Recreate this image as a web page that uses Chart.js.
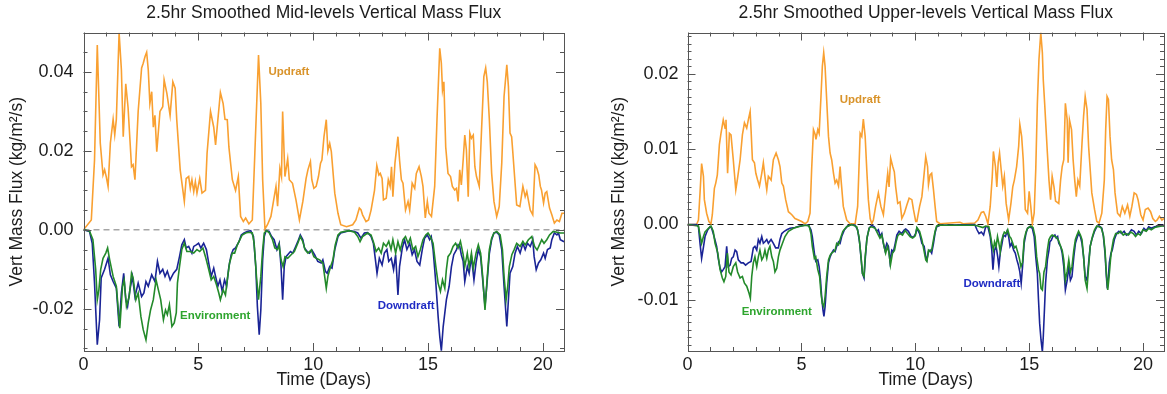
<!DOCTYPE html>
<html>
<head>
<meta charset="utf-8">
<title>Smoothed Vertical Mass Flux</title>
<script src="https://cdn.jsdelivr.net/npm/chart.js"></script>
<style>
  body { margin: 0; background: #fff; }
  #wrap { position: relative; width: 1167px; height: 394px; }
  #wrap canvas { position: absolute; top: 0; }
  #midChart { left: 0; }
  #upperChart { left: 590px; }
</style>
</head>
<body>
<div id="wrap">
  <canvas id="midChart" width="590" height="394"></canvas>
  <canvas id="upperChart" width="577" height="394"></canvas>
</div>
<script>
// ---------- tick labels ----------
const dayTicks = [0, 5, 10, 15, 20];
const midFluxTicks = [-0.02, 0, 0.02, 0.04];
const upperFluxTicks = [-0.01, 0, 0.01, 0.02];

// ---------- mid-levels, [day, flux kg/m2/s] ----------
const midUpdraft = [
  [0,0],[0.34,0.0025],[0.48,0.0177],[0.6,0.0468],[0.73,0.022],[0.85,0.0139],[0.92,0.0152],[0.99,0.0135],
  [1.07,0.011],[1.17,0.022],[1.29,0.028],[1.36,0.0241],[1.43,0.028],[1.55,0.0499],[1.65,0.0405],[1.73,0.0236],
  [1.84,0.037],[1.94,0.031],[2.09,0.016],[2.16,0.0165],[2.24,0.0127],[2.38,0.030],[2.53,0.041],[2.6,0.0422],
  [2.68,0.0439],[2.75,0.045],[2.82,0.0405],[2.89,0.032],[2.97,0.035],[3.04,0.026],[3.11,0.029],[3.19,0.0198],
  [3.33,0.030],[3.45,0.0312],[3.51,0.038],[3.63,0.0346],[3.77,0.029],[3.89,0.0375],[3.99,0.0359],[4.06,0.0279],
  [4.21,0.0152],[4.39,0.0072],[4.47,0.013],[4.58,0.0135],[4.65,0.0105],[4.72,0.0127],[4.8,0.0097],[4.87,0.0122],
  [4.94,0.0093],[5.06,0.013],[5.16,0.0093],[5.31,0.010],[5.38,0.0194],[5.53,0.030],[5.67,0.026],[5.75,0.0215],
  [5.85,0.0279],[5.96,0.0348],[6.08,0.032],[6.16,0.028],[6.26,0.0279],[6.33,0.021],[6.48,0.0127],[6.62,0.010],
  [6.74,0.0135],[6.84,0.0034],[6.96,0.0021],[7.06,0.003],[7.2,0.0015],[7.35,0.0025],[7.46,0.0194],[7.62,0.0443],
  [7.72,0.032],[7.8,0.0127],[7.9,0.0002],[8.01,0.0013],[8.16,0.0034],[8.27,0.0072],[8.38,0.011],[8.45,0.006],
  [8.55,0.0156],[8.62,0.0135],[8.67,0.030],[8.77,0.0135],[8.89,0.018],[8.96,0.0127],[9.1,0.0118],[9.25,0.0076],
  [9.4,0.0025],[9.55,0.0072],[9.69,0.013],[9.77,0.0152],[9.88,0.0173],[9.94,0.0127],[10.03,0.0105],[10.13,0.011],
  [10.23,0.0135],[10.32,0.0169],[10.38,0.0177],[10.47,0.0236],[10.57,0.0279],[10.64,0.020],[10.72,0.0219],[10.79,0.0198],
  [10.94,0.0093],[11.08,0.0042],[11.2,0.0013],[11.45,0.0008],[11.72,0.0013],[11.86,0.0025],[12.01,0.0055],[12.08,0.0051],
  [12.15,0.0038],[12.3,0.0021],[12.41,0.0025],[12.52,0.005],[12.67,0.010],[12.77,0.0163],[12.86,0.0139],[12.92,0.0143],
  [13.0,0.013],[13.06,0.0076],[13.18,0.008],[13.27,0.0127],[13.35,0.011],[13.41,0.016],[13.47,0.0084],[13.56,0.0169],
  [13.69,0.0236],[13.76,0.0177],[13.84,0.0127],[13.91,0.0118],[14.02,0.005],[14.13,0.0072],[14.2,0.005],[14.31,0.0118],
  [14.42,0.0105],[14.49,0.0143],[14.61,0.016],[14.71,0.0135],[14.78,0.011],[14.88,0.003],[14.97,0.0072],[15.04,0.0042],
  [15.15,0.0034],[15.29,0.011],[15.39,0.0279],[15.51,0.046],[15.58,0.0422],[15.63,0.0354],[15.69,0.0375],[15.77,0.021],
  [15.87,0.0143],[15.98,0.0135],[16.06,0.011],[16.16,0.0101],[16.24,0.0105],[16.31,0.0072],[16.38,0.0152],[16.45,0.0114],
  [16.53,0.0177],[16.6,0.024],[16.67,0.0203],[16.75,0.0084],[16.82,0.0245],[16.89,0.0232],[16.97,0.024],[17.04,0.016],
  [17.11,0.0135],[17.23,0.011],[17.33,0.0253],[17.43,0.0388],[17.51,0.041],[17.58,0.0375],[17.67,0.0279],[17.77,0.0143],
  [17.87,0.0072],[17.99,0.0034],[18.1,0.0059],[18.21,0.0169],[18.31,0.0338],[18.43,0.0418],[18.5,0.0363],[18.57,0.0245],
  [18.64,0.0236],[18.69,0.0198],[18.79,0.0118],[18.86,0.0063],[19.0,0.0059],[19.13,0.011],[19.23,0.0084],[19.3,0.0097],
  [19.45,0.005],[19.56,0.0038],[19.66,0.0165],[19.74,0.0156],[19.82,0.0139],[19.89,0.011],[19.94,0.0101],[20.03,0.0068],
  [20.1,0.0093],[20.17,0.0097],[20.29,0.0055],[20.39,0.0038],[20.5,0.0017],[20.61,0.0025],[20.72,0.0021],[20.83,0.0042],
  [20.92,0.0042]
];
const midDowndraft = [
  [0,0],[0.26,-0.0004],[0.38,-0.0034],[0.48,-0.0135],[0.6,-0.0291],[0.7,-0.0228],[0.77,-0.0122],[0.92,-0.010],
  [1.07,-0.0072],[1.17,-0.0114],[1.29,-0.0131],[1.43,-0.0148],[1.55,-0.0245],[1.65,-0.016],[1.75,-0.011],[1.84,-0.0177],
  [1.92,-0.0194],[2.02,-0.0152],[2.13,-0.0118],[2.24,-0.0169],[2.38,-0.0135],[2.53,-0.0169],[2.63,-0.016],[2.72,-0.0131],
  [2.82,-0.0143],[2.97,-0.0114],[3.11,-0.0131],[3.22,-0.008],[3.33,-0.011],[3.45,-0.010],[3.55,-0.0118],[3.65,-0.0105],
  [3.77,-0.0127],[3.92,-0.011],[4.06,-0.010],[4.18,-0.0068],[4.28,-0.0038],[4.39,-0.0025],[4.47,-0.0046],[4.58,-0.0042],
  [4.72,-0.0059],[4.8,-0.0042],[4.91,-0.0038],[5.01,-0.0034],[5.11,-0.0046],[5.23,-0.0034],[5.35,-0.005],[5.45,-0.0084],
  [5.56,-0.0118],[5.67,-0.0097],[5.75,-0.0118],[5.85,-0.0143],[5.94,-0.0127],[6.04,-0.0156],[6.14,-0.0127],[6.23,-0.0143],
  [6.33,-0.0093],[6.43,-0.0063],[6.52,-0.005],[6.62,-0.0046],[6.77,-0.003],[6.87,-0.0013],[6.99,-0.0008],[7.13,-0.0004],
  [7.28,-0.0002],[7.4,-0.0017],[7.5,-0.0093],[7.57,-0.0194],[7.65,-0.0266],[7.72,-0.0203],[7.8,-0.0076],[7.87,-0.0017],
  [7.95,-0.0002],[8.08,-0.0004],[8.19,-0.0017],[8.3,-0.0025],[8.42,-0.005],[8.52,-0.0034],[8.6,-0.0093],[8.67,-0.0177],
  [8.74,-0.0093],[8.82,-0.0068],[8.89,-0.0063],[9.01,-0.0055],[9.11,-0.0059],[9.21,-0.0046],[9.33,-0.003],[9.44,-0.0013],
  [9.55,-0.0025],[9.62,-0.0046],[9.74,-0.0055],[9.84,-0.0059],[9.94,-0.0051],[10.06,-0.0063],[10.2,-0.008],[10.35,-0.0084],
  [10.42,-0.0076],[10.53,-0.0105],[10.61,-0.011],[10.72,-0.0093],[10.82,-0.0097],[10.94,-0.005],[11.08,-0.0017],[11.2,-0.0008],
  [11.57,-0.0002],[11.79,-0.0004],[11.94,-0.0008],[12.08,-0.0021],[12.23,-0.0008],[12.37,-0.0007],[12.52,-0.0017],[12.62,-0.0034],
  [12.71,-0.0076],[12.78,-0.011],[12.88,-0.0072],[13.0,-0.0089],[13.1,-0.0059],[13.21,-0.005],[13.29,-0.008],[13.4,-0.0072],
  [13.5,-0.0101],[13.59,-0.0063],[13.69,-0.0165],[13.76,-0.0093],[13.88,-0.0046],[13.98,-0.0025],[14.08,-0.005],[14.2,-0.0034],
  [14.31,-0.0063],[14.41,-0.005],[14.52,-0.008],[14.64,-0.0089],[14.75,-0.005],[14.85,-0.0021],[14.97,-0.0013],[15.07,-0.0025],
  [15.14,-0.0017],[15.22,-0.005],[15.34,-0.0135],[15.44,-0.022],[15.51,-0.027],[15.58,-0.0306],[15.66,-0.0245],[15.73,-0.0211],
  [15.8,-0.0177],[15.92,-0.0143],[16.02,-0.0093],[16.12,-0.0063],[16.24,-0.005],[16.31,-0.0038],[16.38,-0.0042],[16.45,-0.0063],
  [16.53,-0.008],[16.6,-0.0131],[16.71,-0.0093],[16.79,-0.011],[16.89,-0.0068],[17.0,-0.0127],[17.09,-0.0084],[17.19,-0.005],
  [17.29,-0.0068],[17.38,-0.0127],[17.48,-0.0194],[17.58,-0.0127],[17.67,-0.006],[17.77,-0.0025],[17.87,-0.0008],[17.99,-0.0006],
  [18.1,-0.0013],[18.21,-0.005],[18.31,-0.0143],[18.43,-0.0245],[18.5,-0.0177],[18.57,-0.011],[18.69,-0.0093],[18.79,-0.0059],
  [18.89,-0.0042],[19.01,-0.0059],[19.13,-0.0034],[19.23,-0.005],[19.33,-0.0034],[19.45,-0.0042],[19.56,-0.0025],[19.62,-0.0068],
  [19.71,-0.0101],[19.81,-0.0084],[19.91,-0.0076],[20.03,-0.0059],[20.1,-0.0072],[20.2,-0.005],[20.32,-0.0046],[20.39,-0.0025],
  [20.5,-0.0008],[20.61,-0.0013],[20.68,-0.0008],[20.76,-0.0025],[20.92,-0.003]
];
const midEnvironment = [
  [0,0],[0.26,-0.0003],[0.41,-0.0025],[0.53,-0.010],[0.6,-0.0177],[0.67,-0.0152],[0.75,-0.010],[0.85,-0.0072],
  [0.97,-0.0059],[1.05,-0.0046],[1.14,-0.0076],[1.29,-0.0118],[1.43,-0.0143],[1.58,-0.0249],[1.7,-0.0143],[1.77,-0.0127],
  [1.87,-0.0194],[1.99,-0.0169],[2.09,-0.011],[2.16,-0.0122],[2.28,-0.0177],[2.38,-0.016],[2.5,-0.022],[2.6,-0.0253],
  [2.72,-0.0279],[2.82,-0.0236],[2.92,-0.0203],[3.04,-0.0177],[3.16,-0.0127],[3.26,-0.0152],[3.36,-0.0177],[3.48,-0.0228],
  [3.57,-0.0203],[3.65,-0.0215],[3.74,-0.019],[3.85,-0.0245],[3.95,-0.0236],[4.04,-0.021],[4.09,-0.0135],[4.18,-0.0093],
  [4.28,-0.005],[4.39,-0.0034],[4.5,-0.0055],[4.65,-0.0055],[4.8,-0.0059],[4.94,-0.005],[5.06,-0.0055],[5.2,-0.0046],
  [5.31,-0.0068],[5.45,-0.010],[5.56,-0.0127],[5.67,-0.0118],[5.79,-0.0139],[5.89,-0.016],[5.96,-0.0177],[6.08,-0.0152],
  [6.18,-0.0165],[6.26,-0.0127],[6.36,-0.0084],[6.48,-0.0059],[6.58,-0.0059],[6.7,-0.0038],[6.81,-0.0025],[6.91,-0.0013],
  [7.06,-0.0008],[7.2,-0.0006],[7.35,-0.0008],[7.43,-0.0034],[7.53,-0.0118],[7.62,-0.0177],[7.72,-0.0118],[7.8,-0.005],
  [7.87,-0.0008],[7.97,-0.0002],[8.09,-0.0008],[8.23,-0.0025],[8.33,-0.0046],[8.45,-0.005],[8.52,-0.0038],[8.6,-0.0076],
  [8.69,-0.0093],[8.77,-0.0068],[8.89,-0.0072],[9.04,-0.0063],[9.18,-0.0055],[9.33,-0.0034],[9.44,-0.0017],[9.55,-0.003],
  [9.65,-0.0051],[9.77,-0.0059],[9.92,-0.0051],[10.03,-0.0068],[10.13,-0.0072],[10.28,-0.0076],[10.42,-0.0084],[10.5,-0.0118],
  [10.57,-0.0148],[10.64,-0.0118],[10.76,-0.0093],[10.86,-0.0076],[10.96,-0.0038],[11.08,-0.0013],[11.2,-0.0006],[11.57,-0.0002],
  [11.8,-0.0006],[11.94,-0.0017],[12.04,-0.003],[12.15,-0.0017],[12.37,-0.0008],[12.52,-0.0013],[12.62,-0.003],[12.74,-0.0055],
  [12.85,-0.0046],[12.96,-0.0059],[13.06,-0.0034],[13.18,-0.0042],[13.29,-0.0029],[13.39,-0.005],[13.47,-0.0025],[13.59,-0.0059],
  [13.69,-0.003],[13.79,-0.0051],[13.91,-0.0025],[14.02,-0.0017],[14.13,-0.0034],[14.23,-0.0021],[14.34,-0.005],[14.46,-0.0042],
  [14.56,-0.0068],[14.66,-0.0051],[14.78,-0.0025],[14.9,-0.0013],[15.0,-0.0008],[15.1,-0.0017],[15.22,-0.0034],[15.34,-0.0093],
  [15.44,-0.0135],[15.54,-0.0156],[15.63,-0.0127],[15.73,-0.0148],[15.8,-0.010],[15.87,-0.0068],[15.98,-0.0059],[16.09,-0.0042],
  [16.2,-0.0034],[16.31,-0.0046],[16.41,-0.0029],[16.53,-0.0063],[16.6,-0.0093],[16.71,-0.0059],[16.79,-0.0093],[16.89,-0.0059],
  [16.97,-0.0097],[17.09,-0.0059],[17.19,-0.0038],[17.29,-0.0059],[17.38,-0.0118],[17.48,-0.0203],[17.58,-0.0118],[17.67,-0.005],
  [17.77,-0.0021],[17.87,-0.0008],[17.99,-0.0004],[18.14,-0.0013],[18.24,-0.005],[18.31,-0.0118],[18.4,-0.0177],[18.47,-0.0143],
  [18.54,-0.0093],[18.65,-0.0063],[18.75,-0.005],[18.86,-0.0034],[19.01,-0.0042],[19.13,-0.0029],[19.23,-0.0038],[19.37,-0.0025],
  [19.52,-0.0017],[19.64,-0.0042],[19.75,-0.0051],[19.85,-0.0038],[19.95,-0.0025],[20.05,-0.0034],[20.17,-0.0025],[20.29,-0.0013],
  [20.45,-0.0004],[20.62,-0.0006],[20.76,-0.0008],[20.92,-0.0008]
];

// ---------- upper-levels, [day, flux kg/m2/s] ----------
const upperUpdraft = [
  [0,0],[0.4,0],[0.48,0.0006],[0.55,0.0042],[0.62,0.0081],[0.7,0.0064],[0.74,0.0033],[0.84,0.0015],
  [0.94,0.0004],[1.03,0.0001],[1.09,0.0013],[1.18,0.0048],[1.24,0.0055],[1.31,0.0066],[1.4,0.0106],[1.47,0.0121],
  [1.57,0.0139],[1.65,0.0128],[1.69,0.0139],[1.76,0.0068],[1.84,0.0121],[1.91,0.0119],[2.01,0.0086],[2.12,0.0046],
  [2.2,0.0062],[2.31,0.0086],[2.41,0.0119],[2.5,0.0135],[2.6,0.0128],[2.67,0.0139],[2.75,0.015],[2.79,0.0126],
  [2.85,0.0086],[2.94,0.0082],[3.0,0.0068],[3.08,0.0059],[3.16,0.0051],[3.26,0.0068],[3.33,0.0082],[3.4,0.0064],
  [3.48,0.0046],[3.55,0.0064],[3.67,0.0059],[3.77,0.0086],[3.89,0.0095],[3.99,0.0086],[4.06,0.0077],[4.14,0.0055],
  [4.21,0.0051],[4.31,0.0033],[4.43,0.0017],[4.58,0.0013],[4.72,0.0008],[4.87,0.0006],[5.01,0.0004],[5.16,0.0001],
  [5.28,0.0004],[5.38,0.0015],[5.45,0.0073],[5.53,0.0126],[5.6,0.012],[5.64,0.0113],[5.72,0.0126],[5.78,0.0121],
  [5.86,0.017],[5.92,0.021],[5.98,0.0228],[6.04,0.021],[6.11,0.0166],[6.19,0.0117],[6.26,0.0095],[6.33,0.0086],
  [6.41,0.0068],[6.48,0.0055],[6.55,0.0059],[6.63,0.0051],[6.7,0.0077],[6.74,0.006],[6.84,0.0024],[6.99,0.0006],
  [7.14,0.0001],[7.36,0.0001],[7.47,0.0024],[7.58,0.0121],[7.65,0.0117],[7.72,0.014],[7.8,0.0117],[7.87,0.0073],
  [7.94,0.0033],[8.02,0.0008],[8.09,0.0001],[8.16,0.0006],[8.26,0.0024],[8.38,0.0042],[8.49,0.0024],[8.6,0.0013],
  [8.7,0.0042],[8.79,0.0068],[8.85,0.005],[8.92,0.0088],[9.01,0.0077],[9.08,0.007],[9.14,0.005],[9.23,0.0028],
  [9.33,0.003],[9.41,0.0008],[9.52,0.0015],[9.63,0.0026],[9.73,0.0035],[9.85,0.0033],[9.92,0.002],[10.02,0.0004],
  [10.07,0.0004],[10.19,0.0024],[10.29,0.0037],[10.39,0.0068],[10.46,0.009],[10.54,0.0077],[10.58,0.0053],[10.65,0.0066],
  [10.72,0.0068],[10.8,0.0046],[10.87,0.0024],[10.94,0.0004],[11.09,0.0001],[11.96,0.0003],[12.1,0.0001],[12.61,0.0002],
  [12.75,0.0006],[12.9,0.0016],[13.0,0.0017],[13.09,0.0011],[13.19,0.0001],[13.29,0.0024],[13.38,0.0064],[13.43,0.0097],
  [13.52,0.0077],[13.58,0.005],[13.64,0.0082],[13.7,0.0095],[13.77,0.0073],[13.84,0.0051],[13.91,0.0064],[13.99,0.0028],
  [14.1,0.0006],[14.2,0.0028],[14.28,0.005],[14.35,0.0059],[14.45,0.0077],[14.54,0.0104],[14.59,0.0133],[14.67,0.0117],
  [14.74,0.0086],[14.83,0.002],[14.93,0.0015],[15.0,0.0044],[15.07,0.0024],[15.14,0.0001],[15.22,0.0015],[15.29,0.0073],
  [15.36,0.0161],[15.43,0.0219],[15.51,0.0255],[15.58,0.0228],[15.62,0.0192],[15.68,0.0161],[15.72,0.0139],[15.8,0.0095],
  [15.87,0.0059],[15.94,0.0033],[16.01,0.0064],[16.09,0.005],[16.16,0.0031],[16.3,0.0028],[16.38,0.0059],[16.45,0.0077],
  [16.52,0.0086],[16.59,0.0161],[16.67,0.0139],[16.71,0.0082],[16.77,0.0139],[16.86,0.0126],[16.93,0.0086],[17.0,0.0059],
  [17.07,0.0037],[17.14,0.0059],[17.22,0.0051],[17.32,0.0108],[17.39,0.0144],[17.46,0.017],[17.54,0.0153],[17.61,0.0104],
  [17.68,0.0073],[17.75,0.0042],[17.87,0.002],[17.97,0.0004],[18.07,0.0002],[18.19,0.0015],[18.3,0.0059],[18.36,0.0126],
  [18.42,0.017],[18.48,0.0166],[18.55,0.0117],[18.62,0.0086],[18.7,0.0073],[18.77,0.0042],[18.88,0.0015],[18.99,0.0011],
  [19.09,0.0024],[19.2,0.0015],[19.32,0.0026],[19.42,0.0011],[19.51,0.0024],[19.61,0.0042],[19.71,0.004],[19.78,0.0033],
  [19.9,0.0013],[20.0,0.0006],[20.1,0.002],[20.22,0.0022],[20.33,0.0017],[20.43,0.0008],[20.54,0.0004],[20.62,0.0006],
  [20.72,0.0011],[20.83,0.0006],[20.92,0.0008]
];
const upperDowndraft = [
  [0,0],[0.4,0],[0.48,-0.0003],[0.55,-0.0025],[0.62,-0.0045],[0.7,-0.003],[0.77,-0.0016],[0.89,-0.0007],
  [0.99,-0.0003],[1.06,-0.0005],[1.13,-0.0012],[1.21,-0.0021],[1.28,-0.0029],[1.35,-0.0045],[1.43,-0.0058],[1.5,-0.0063],
  [1.57,-0.006],[1.65,-0.0056],[1.72,-0.0029],[1.79,-0.0056],[1.87,-0.0054],[1.94,-0.0045],[2.01,-0.0043],[2.09,-0.0034],
  [2.16,-0.0036],[2.23,-0.0047],[2.35,-0.0051],[2.45,-0.0051],[2.55,-0.0054],[2.67,-0.0051],[2.79,-0.0049],[2.89,-0.0031],
  [2.96,-0.0029],[3.04,-0.0034],[3.11,-0.002],[3.18,-0.0025],[3.26,-0.0016],[3.33,-0.0025],[3.4,-0.0023],[3.48,-0.002],
  [3.55,-0.0025],[3.67,-0.002],[3.77,-0.0025],[3.87,-0.0031],[3.99,-0.0031],[4.06,-0.002],[4.14,-0.0012],[4.25,-0.0009],
  [4.36,-0.0007],[4.5,-0.0005],[4.72,-0.0004],[4.94,-0.0002],[5.16,-0.0001],[5.31,-0.0001],[5.42,-0.0007],[5.48,-0.0016],
  [5.57,-0.0038],[5.63,-0.0049],[5.72,-0.0047],[5.78,-0.0056],[5.84,-0.0074],[5.89,-0.0096],[5.95,-0.0114],[5.99,-0.0122],
  [6.04,-0.0109],[6.11,-0.0078],[6.19,-0.0051],[6.26,-0.0043],[6.33,-0.0038],[6.41,-0.0034],[6.48,-0.0036],[6.55,-0.0029],
  [6.63,-0.0023],[6.7,-0.0025],[6.77,-0.0016],[6.89,-0.0007],[7.03,-0.0002],[7.21,0],[7.36,-0.0001],[7.47,-0.0007],
  [7.56,-0.0025],[7.62,-0.0045],[7.68,-0.0065],[7.75,-0.0071],[7.8,-0.0047],[7.87,-0.002],[7.97,-0.0005],[8.09,-0.0001],
  [8.2,-0.0003],[8.31,-0.0009],[8.38,-0.0007],[8.46,-0.0016],[8.53,-0.0012],[8.6,-0.0025],[8.67,-0.0034],[8.75,-0.0025],
  [8.82,-0.0029],[8.89,-0.0049],[8.97,-0.0034],[9.04,-0.0036],[9.12,-0.0025],[9.19,-0.0014],[9.29,-0.0009],[9.4,-0.0012],
  [9.52,-0.0007],[9.58,-0.0006],[9.7,-0.0009],[9.82,-0.0016],[9.92,-0.0017],[10.02,-0.0012],[10.07,-0.0005],[10.19,-0.0012],
  [10.29,-0.0025],[10.39,-0.0029],[10.46,-0.0043],[10.51,-0.0047],[10.58,-0.0036],[10.65,-0.0034],[10.72,-0.0038],[10.8,-0.0025],
  [10.87,-0.0011],[10.94,-0.0003],[11.09,-0.0001],[12.61,0],[12.71,-0.0007],[12.8,-0.0012],[12.9,-0.001],[13.0,-0.0014],
  [13.09,-0.0003],[13.19,-0.0003],[13.29,-0.0016],[13.36,-0.0034],[13.41,-0.006],[13.48,-0.0034],[13.55,-0.0029],[13.62,-0.0043],
  [13.67,-0.0056],[13.73,-0.0038],[13.81,-0.0025],[13.87,-0.0014],[13.96,-0.0016],[14.03,-0.0009],[14.1,-0.0016],[14.16,-0.0029],
  [14.23,-0.0025],[14.32,-0.0034],[14.39,-0.0038],[14.46,-0.0047],[14.52,-0.0053],[14.59,-0.0063],[14.65,-0.0078],[14.71,-0.0056],
  [14.78,-0.0025],[14.86,-0.0012],[14.93,-0.0005],[15.03,-0.0003],[15.14,-0.0005],[15.22,-0.0016],[15.29,-0.0043],[15.36,-0.0065],
  [15.41,-0.01],[15.46,-0.0131],[15.52,-0.0153],[15.58,-0.0169],[15.62,-0.0149],[15.67,-0.0114],[15.72,-0.0078],[15.8,-0.0047],
  [15.87,-0.0034],[15.91,-0.0023],[15.97,-0.0021],[16.04,-0.0016],[16.13,-0.0014],[16.19,-0.0018],[16.25,-0.0016],[16.3,-0.0025],
  [16.38,-0.0029],[16.45,-0.0038],[16.52,-0.0056],[16.59,-0.0087],[16.67,-0.0074],[16.74,-0.0056],[16.81,-0.0074],[16.88,-0.0069],
  [16.96,-0.0043],[17.03,-0.0025],[17.1,-0.0018],[17.17,-0.0012],[17.25,-0.0016],[17.32,-0.0025],[17.39,-0.0043],[17.46,-0.0069],
  [17.54,-0.0074],[17.61,-0.0051],[17.68,-0.0029],[17.75,-0.002],[17.87,-0.0009],[17.97,-0.0003],[18.07,-0.0002],[18.19,-0.0005],
  [18.26,-0.0016],[18.33,-0.0038],[18.39,-0.0069],[18.43,-0.0085],[18.48,-0.0069],[18.52,-0.0051],[18.59,-0.0038],[18.65,-0.0034],
  [18.74,-0.002],[18.84,-0.0012],[18.94,-0.0009],[19.06,-0.0012],[19.17,-0.0009],[19.27,-0.0014],[19.38,-0.0012],[19.49,-0.0007],
  [19.61,-0.0009],[19.71,-0.0014],[19.81,-0.0009],[19.93,-0.0012],[20.04,-0.0005],[20.14,-0.0008],[20.25,-0.0003],[20.36,-0.0005],
  [20.51,-0.0003],[20.65,-0.0002],[20.83,-0.0001],[20.92,-0.0002]
];
const upperEnvironment = [
  [0,0],[0.48,-0.0002],[0.55,-0.0014],[0.62,-0.0025],[0.7,-0.0016],[0.77,-0.001],[0.92,-0.0005],[1.03,-0.0002],
  [1.13,-0.0009],[1.21,-0.0025],[1.33,-0.0038],[1.43,-0.006],[1.53,-0.0071],[1.6,-0.0076],[1.68,-0.0069],[1.75,-0.0038],
  [1.82,-0.0063],[1.91,-0.0067],[2.01,-0.0056],[2.12,-0.0051],[2.2,-0.0063],[2.31,-0.0071],[2.41,-0.0069],[2.5,-0.0078],
  [2.6,-0.0082],[2.7,-0.0091],[2.76,-0.0098],[2.82,-0.0069],[2.89,-0.0051],[2.96,-0.0043],[3.04,-0.0056],[3.11,-0.0043],
  [3.18,-0.0034],[3.26,-0.0047],[3.33,-0.0043],[3.4,-0.0034],[3.48,-0.0045],[3.55,-0.0034],[3.62,-0.0029],[3.7,-0.0043],
  [3.77,-0.0049],[3.84,-0.0063],[3.92,-0.0058],[3.99,-0.0043],[4.06,-0.0034],[4.17,-0.0025],[4.28,-0.0016],[4.43,-0.0009],
  [4.65,-0.0005],[4.87,-0.0003],[5.16,-0.0001],[5.34,-0.0002],[5.42,-0.0012],[5.48,-0.0029],[5.57,-0.0045],[5.63,-0.0043],
  [5.72,-0.006],[5.8,-0.0069],[5.86,-0.0091],[5.92,-0.0105],[5.98,-0.0109],[6.04,-0.0096],[6.11,-0.0069],[6.19,-0.0047],
  [6.26,-0.0041],[6.33,-0.0038],[6.41,-0.0036],[6.48,-0.0034],[6.55,-0.0025],[6.63,-0.0027],[6.7,-0.002],[6.82,-0.0009],
  [6.99,-0.0003],[7.21,0],[7.43,-0.0003],[7.53,-0.0016],[7.62,-0.0043],[7.68,-0.0065],[7.75,-0.0069],[7.8,-0.0043],
  [7.89,-0.0016],[7.99,-0.0004],[8.09,-0.0003],[8.24,-0.0005],[8.35,-0.0012],[8.45,-0.0018],[8.53,-0.0014],[8.63,-0.0029],
  [8.7,-0.0038],[8.78,-0.0029],[8.85,-0.0038],[8.91,-0.0054],[9.0,-0.0038],[9.09,-0.0034],[9.16,-0.0023],[9.23,-0.0015],
  [9.33,-0.0012],[9.44,-0.0014],[9.55,-0.0008],[9.66,-0.0012],[9.77,-0.0016],[9.88,-0.0018],[10.0,-0.0015],[10.07,-0.0004],
  [10.19,-0.0009],[10.29,-0.002],[10.36,-0.0031],[10.46,-0.0047],[10.51,-0.0049],[10.58,-0.0034],[10.65,-0.0036],[10.72,-0.0034],
  [10.8,-0.002],[10.87,-0.0009],[10.94,-0.0002],[11.09,-0.0001],[12.61,-0.0001],[12.75,-0.0002],[12.97,-0.0004],[13.09,-0.0002],
  [13.23,-0.0003],[13.29,-0.0012],[13.36,-0.0025],[13.43,-0.0034],[13.48,-0.0023],[13.55,-0.0029],[13.61,-0.0016],[13.67,-0.0025],
  [13.73,-0.0036],[13.78,-0.0023],[13.84,-0.0016],[13.91,-0.001],[13.99,-0.0012],[14.06,-0.0007],[14.14,-0.0016],[14.2,-0.0018],
  [14.28,-0.0025],[14.35,-0.0031],[14.42,-0.0029],[14.49,-0.0036],[14.57,-0.0045],[14.64,-0.0056],[14.71,-0.005],[14.78,-0.002],
  [14.86,-0.001],[14.93,-0.0005],[15.07,-0.0002],[15.17,-0.0004],[15.26,-0.0016],[15.33,-0.0043],[15.41,-0.006],[15.46,-0.0065],
  [15.52,-0.0085],[15.58,-0.0087],[15.65,-0.0063],[15.72,-0.0056],[15.8,-0.0034],[15.87,-0.002],[15.94,-0.0016],[16.01,-0.0014],
  [16.13,-0.0016],[16.23,-0.0018],[16.3,-0.0022],[16.38,-0.0029],[16.45,-0.0034],[16.52,-0.0047],[16.59,-0.0074],[16.67,-0.0062],
  [16.74,-0.0047],[16.81,-0.0063],[16.88,-0.0056],[16.96,-0.0034],[17.03,-0.002],[17.1,-0.0014],[17.17,-0.0009],[17.25,-0.0014],
  [17.32,-0.002],[17.39,-0.0043],[17.46,-0.0074],[17.54,-0.0085],[17.61,-0.0056],[17.68,-0.0029],[17.78,-0.0016],[17.87,-0.0007],
  [17.97,-0.0002],[18.16,-0.0004],[18.26,-0.0014],[18.33,-0.0034],[18.39,-0.0065],[18.45,-0.0087],[18.51,-0.0069],[18.57,-0.0047],
  [18.62,-0.0034],[18.7,-0.002],[18.8,-0.0012],[18.91,-0.0012],[19.02,-0.0009],[19.13,-0.0014],[19.23,-0.0012],[19.36,-0.0014],
  [19.46,-0.001],[19.57,-0.0012],[19.67,-0.0016],[19.78,-0.0012],[19.88,-0.0014],[19.99,-0.0007],[20.14,-0.0009],[20.25,-0.0005],
  [20.36,-0.0007],[20.51,-0.0004],[20.65,-0.0003],[20.83,-0.0002],[20.92,-0.0002]
];

// ---------- styling ----------
const FONT = "'Liberation Sans', Arial, Helvetica, sans-serif";
const TEXT = '#1c1c1c';
const ORANGE = '#f9a031';
const BLUE = '#1a2496';
const GREEN = '#238a2a';
const DAY_MAX = 20.92;

const toXY = pairs => pairs.map(([d, f]) => ({ x: d, y: f }));

// frame round the plot with IDL-style inward ticks on every side
function frameTicks(cfg) {
  return {
    id: 'frameTicks',
    afterDatasetsDraw(chart) {
      const { ctx, chartArea: a, scales: { x, y } } = chart;
      const onStep = (v, step) => Math.abs(v / step - Math.round(v / step)) < 1e-6;
      ctx.save();
      ctx.strokeStyle = '#555';
      ctx.lineWidth = 1;
      ctx.beginPath();
      for (let i = Math.ceil(x.min / cfg.xMinor); i * cfg.xMinor <= x.max + 1e-9; i++) {
        const v = i * cfg.xMinor;
        const px = Math.round(x.getPixelForValue(v)) + 0.5;
        const len = onStep(v, cfg.xMajor) ? 8 : 4;
        ctx.moveTo(px, a.bottom); ctx.lineTo(px, a.bottom - len);
        ctx.moveTo(px, a.top); ctx.lineTo(px, a.top + len);
      }
      for (let i = Math.ceil(y.min / cfg.yMinor - 1e-9); i * cfg.yMinor <= y.max + 1e-12; i++) {
        const v = i * cfg.yMinor;
        const py = Math.round(y.getPixelForValue(v)) + 0.5;
        const len = onStep(v, cfg.yMajor) ? 8 : 4;
        ctx.moveTo(a.left, py); ctx.lineTo(a.left + len, py);
        ctx.moveTo(a.right, py); ctx.lineTo(a.right - len, py);
      }
      ctx.stroke();
      ctx.strokeRect(Math.round(a.left) + 0.5, Math.round(a.top) + 0.5,
        Math.round(a.width) - 1, Math.round(a.height) - 1);
      ctx.restore();
    }
  };
}

// series names written inside the plot, anchored in data units
function seriesLabels(items) {
  return {
    id: 'seriesLabels',
    afterDatasetsDraw(chart) {
      const { ctx, scales: { x, y } } = chart;
      ctx.save();
      ctx.font = 'bold 11.5px ' + FONT;
      ctx.textAlign = 'center';
      ctx.textBaseline = 'middle';
      items.forEach(it => {
        ctx.fillStyle = it.color;
        ctx.fillText(it.text, x.getPixelForValue(it.day), y.getPixelForValue(it.flux));
      });
      ctx.restore();
    }
  };
}

function fluxPanel(id, p) {
  const tickFont = { family: FONT, size: 18 };
  const titleFont = { family: FONT, size: 17.5 };
  return new Chart(document.getElementById(id), {
    type: 'line',
    data: {
      datasets: [
        { data: toXY(p.env), borderColor: GREEN, borderWidth: 1.6 },
        { data: toXY(p.down), borderColor: BLUE, borderWidth: 1.6 },
        { data: toXY(p.up), borderColor: ORANGE, borderWidth: 1.6 },
        { data: [{ x: 0, y: 0 }, { x: DAY_MAX, y: 0 }], borderColor: p.zeroColor, borderWidth: 1, borderDash: [6, 4] }
      ]
    },
    options: {
      responsive: false,
      animation: false,
      devicePixelRatio: 1,
      elements: { point: { radius: 0 }, line: { tension: 0 } },
      layout: { padding: { left: 0, right: p.padRight, top: 0, bottom: 0 } },
      plugins: {
        legend: { display: false },
        tooltip: { enabled: false },
        title: {
          display: true, text: p.title, fullSize: false, color: TEXT,
          font: { family: FONT, size: 17.5, weight: 'normal' },
          padding: { top: 3, bottom: 8.5 }
        }
      },
      scales: {
        x: {
          type: 'linear', min: 0, max: DAY_MAX,
          grid: { display: false, drawTicks: false },
          border: { display: false },
          afterBuildTicks: s => { s.ticks = dayTicks.map(v => ({ value: v })); },
          ticks: { color: TEXT, font: tickFont, padding: 3, maxRotation: 0, callback: v => String(v) },
          title: { display: true, text: 'Time (Days)', color: TEXT, font: titleFont, padding: { top: 0, bottom: 3 } },
          afterFit: s => { s.height = 43; }
        },
        y: {
          type: 'linear', min: p.yMin, max: p.yMax,
          grid: { display: false, drawTicks: false },
          border: { display: false },
          afterBuildTicks: s => { s.ticks = p.yTicks.map(v => ({ value: v })); },
          ticks: { color: TEXT, font: tickFont, padding: p.tickPad, callback: v => v.toFixed(2) },
          title: { display: true, text: 'Vert Mass Flux (kg/m²/s)', color: TEXT, font: titleFont, padding: { top: p.titlePad, bottom: 0 } },
          afterFit: s => { s.width = p.axisWidth; }
        }
      }
    },
    plugins: [frameTicks(p.ticks), seriesLabels(p.labels)]
  });
}

fluxPanel('midChart', {
  title: '2.5hr Smoothed Mid-levels Vertical Mass Flux',
  up: midUpdraft, down: midDowndraft, env: midEnvironment,
  yMin: -0.0307, yMax: 0.05, yTicks: midFluxTicks,
  zeroColor: '#7a7a7a',
  axisWidth: 83.5, padRight: 26, tickPad: 10, titlePad: 7,
  ticks: { xMinor: 1, xMajor: 5, yMinor: 0.005, yMajor: 0.02 },
  labels: [
    { text: 'Updraft', day: 8.94, flux: 0.040, color: '#d9932a' },
    { text: 'Environment', day: 5.73, flux: -0.0217, color: '#2ea52e' },
    { text: 'Downdraft', day: 14.05, flux: -0.0192, color: '#1f2bc4' }
  ]
});

fluxPanel('upperChart', {
  title: '2.5hr Smoothed Upper-levels Vertical Mass Flux',
  up: upperUpdraft, down: upperDowndraft, env: upperEnvironment,
  yMin: -0.0168, yMax: 0.0255, yTicks: upperFluxTicks,
  zeroColor: '#111',
  axisWidth: 97.5, padRight: 3, tickPad: 9, titlePad: 19,
  ticks: { xMinor: 1, xMajor: 5, yMinor: 0.001, yMajor: 0.01 },
  labels: [
    { text: 'Updraft', day: 7.58, flux: 0.0165, color: '#d9932a' },
    { text: 'Environment', day: 3.92, flux: -0.0116, color: '#2ea52e' },
    { text: 'Downdraft', day: 13.36, flux: -0.0079, color: '#1f2bc4' }
  ]
});
</script>
</body>
</html>
